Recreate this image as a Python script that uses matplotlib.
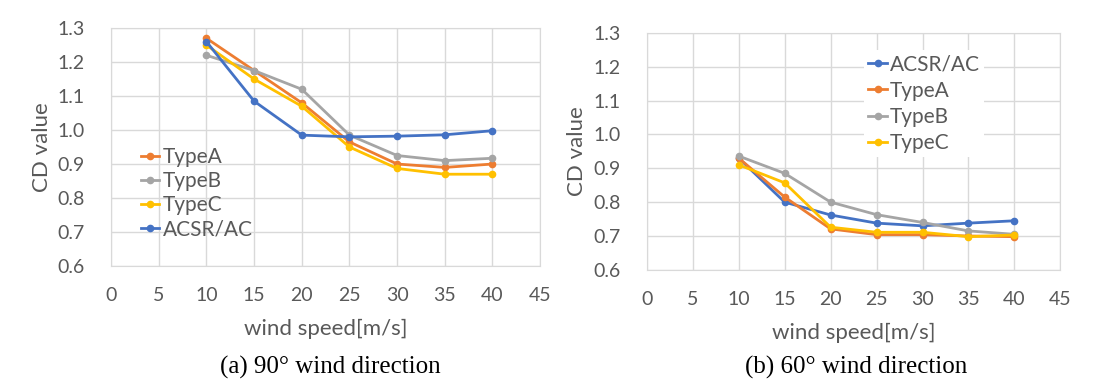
import matplotlib.pyplot as plt

# wind speed (m/s)
speed = [10, 15, 20, 25, 30, 35, 40]

# (a) 90 degree wind direction
a_typeA = [1.27, 1.175, 1.08, 0.965, 0.90, 0.89, 0.90]
a_typeB = [1.22, 1.175, 1.12, 0.985, 0.925, 0.91, 0.917]
a_typeC = [1.25, 1.15, 1.07, 0.95, 0.887, 0.87, 0.87]
a_acsr = [1.26, 1.085, 0.985, 0.98, 0.982, 0.986, 0.998]

# (b) 60 degree wind direction
b_acsr = [0.93, 0.80, 0.762, 0.738, 0.730, 0.738, 0.745]
b_typeA = [0.93, 0.815, 0.721, 0.704, 0.704, 0.70, 0.698]
b_typeB = [0.936, 0.885, 0.80, 0.763, 0.740, 0.715, 0.705]
b_typeC = [0.91, 0.857, 0.726, 0.711, 0.711, 0.698, 0.703]

x_ticks = [0, 5, 10, 15, 20, 25, 30, 35, 40, 45]
y_ticks = [0.6, 0.7, 0.8, 0.9, 1.0, 1.1, 1.2, 1.3]

BLUE = '#4472C4'
ORANGE = '#ED7D31'
GREY = '#A5A5A5'
YELLOW = '#FFC000'
TXT = '#595959'
GRID = '#D9D9D9'

plt.rcParams['font.family'] = ['Lato', 'DejaVu Sans']

fig = plt.figure(figsize=(11, 3.9), dpi=100)
ax1 = fig.add_axes([0.101, 0.318, 0.390, 0.610])
ax2 = fig.add_axes([0.588, 0.308, 0.376, 0.608])


def style(ax):
    ax.set_xlim(0, 45)
    ax.set_ylim(0.6, 1.3)
    ax.set_xticks(x_ticks)
    ax.set_yticks(y_ticks)
    ax.set_yticklabels([f'{v:.1f}' for v in y_ticks])
    ax.grid(True, color=GRID, linewidth=1)
    ax.set_axisbelow(True)
    for s in ax.spines.values():
        s.set_color(GRID)
    ax.tick_params(length=0, labelsize=14, colors=TXT)
    ax.tick_params(axis='x', pad=15)
    ax.tick_params(axis='y', pad=19)
    ax.set_xlabel('wind speed[m/s]', fontsize=16, color=TXT, labelpad=11)
    ax.set_ylabel('CD value', fontsize=16, color=TXT, labelpad=4)


kw = dict(linewidth=2, marker='o', markersize=4.5)
leg_kw = dict(fontsize=15, labelcolor=TXT, handlelength=0.9,
              handletextpad=0.15, labelspacing=0.3)

ax1.plot(speed, a_typeA, color=ORANGE, label='TypeA', **kw)
ax1.plot(speed, a_typeB, color=GREY, label='TypeB', **kw)
ax1.plot(speed, a_typeC, color=YELLOW, label='TypeC', **kw)
ax1.plot(speed, a_acsr, color=BLUE, label='ACSR/AC', **kw)
style(ax1)
ax1.legend(loc='lower left', bbox_to_anchor=(0.035, 0.05), frameon=False,
           borderaxespad=0.3, **dict(leg_kw, labelspacing=0.2))

ax2.plot(speed, b_acsr, color=BLUE, label='ACSR/AC', **kw)
ax2.plot(speed, b_typeA, color=ORANGE, label='TypeA', **kw)
ax2.plot(speed, b_typeB, color=GREY, label='TypeB', **kw)
ax2.plot(speed, b_typeC, color=YELLOW, label='TypeC', **kw)
style(ax2)
ax2.legend(loc='upper left', bbox_to_anchor=(0.5, 0.97), frameon=True,
           facecolor='white', edgecolor='none', framealpha=1, fancybox=False,
           borderpad=0.2, **leg_kw)

fig.text(0.30, 0.058, '(a) 90° wind direction', ha='center', va='center',
         fontsize=18, family='Liberation Serif', color='black')
fig.text(0.778, 0.058, '(b) 60° wind direction', ha='center', va='center',
         fontsize=18, family='Liberation Serif', color='black')

fig.savefig('out.png', dpi=100)
